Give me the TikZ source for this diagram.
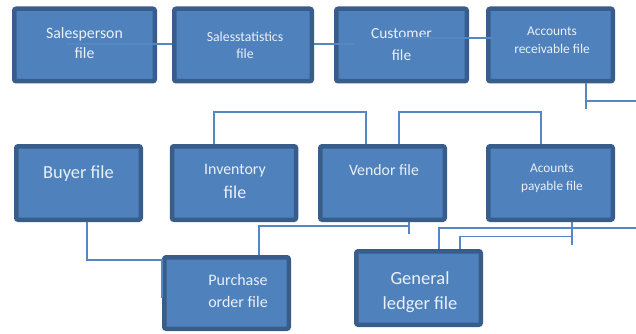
\documentclass[tikz,border=0pt]{standalone}
\usepackage{fontspec}
\setmainfont{Carlito}
\definecolor{boxfill}{RGB}{79,129,189}
\definecolor{boxedge}{RGB}{56,93,138}
\definecolor{linkblue}{RGB}{84,135,196}
\definecolor{boxtext}{RGB}{234,240,248}
\begin{document}
\begin{tikzpicture}[x=1pt, y=-1pt,
  filebox/.style={shape=rectangle, draw=boxedge, fill=boxfill, line width=4.5pt, rounded corners=2pt, minimum width=124.5pt, minimum height=73.5pt, inner sep=0pt},
  ftext/.style={anchor=north, text=boxtext, align=center, inner sep=0pt},
  link/.style={draw=linkblue, line width=1.4pt}]
\useasboundingbox (0,0) rectangle (636,334);
\coordinate (arout) at (636,101);
\coordinate (glout) at (636,228);
\node[filebox, minimum width=140.5pt, minimum height=72.5pt, label={[ftext, yshift=-20.5pt, font=\fontsize{15.8}{20.5}\selectfont]north:Salesperson\\file}] (sp) at (84.5,45) {};
\node[filebox, minimum width=130.5pt, minimum height=72.5pt, label={[ftext, font=\fontsize{15.4}{22}\selectfont, yshift=-21.75pt]north:Customer\\file}] (cu) at (401.5,45) {};
\node[filebox, minimum height=72.5pt, label={[ftext, font=\fontsize{13.4}{18}\selectfont, xshift=1.5pt, yshift=-19.75pt]north:Accounts\\receivable file}] (ar) at (550.5,45) {};
\path [link] ([xshift=-17.5pt, yshift=1pt]sp.center) edge ([xshift=-46.5pt, yshift=1pt]cu.center);
\path [link] ([xshift=-1.5pt, yshift=7pt]cu.center) edge ([xshift=-58.5pt, yshift=7pt]ar.center);
\node[filebox, minimum width=137.5pt, minimum height=72.5pt, label={[ftext, font=\fontsize{13.8}{17}\selectfont, xshift=2pt, yshift=-25.5pt]north:Salesstatistics\\file}] (ss) at (243,45) {};
\node[filebox, label={[ftext, font=\fontsize{18.4}{22}\selectfont, yshift=-21.5pt]north:Buyer file}] (bu) at (78.5,183) {};
\node[filebox, minimum width=124pt, label={[ftext, font=\fontsize{15.9}{24}\selectfont, xshift=1pt, yshift=-20.25pt]north:Inventory\\{\fontsize{18}{24}\selectfont file}}] (in) at (234,183) {};
\node[filebox, label={[ftext, font=\fontsize{15.8}{20}\selectfont, xshift=1.5pt, yshift=-20.25pt]north:Vendor file}] (ve) at (382.5,183) {};
\node[filebox, label={[ftext, font=\fontsize{13.3}{18}\selectfont, xshift=1.5pt, yshift=-20.25pt]north:Acounts\\payable file}] (ap) at (550.5,183) {};
\node[filebox, minimum height=71.5pt, label={[ftext, font=\fontsize{16}{22}\selectfont, xshift=11.5pt, yshift=-19.25pt]north:Purchase\\order file}] (po) at (226.5,293) {};
\node[filebox, label={[ftext, font=\fontsize{18.5}{25}\selectfont, xshift=1.5pt, yshift=-22.25pt]north:General\\ledger file}] (gl) at (418.5,288) {};
\draw [link] ([xshift=35.5pt]ar.south) -- ++(0,25.5);
\draw [link] ([xshift=35.5pt]ar.south |- arout) -- (arout);
\draw [link] ([xshift=-20pt]in.north) -- ++(0,-32) -| ([xshift=-16.5pt]ve.north);
\draw [link] ([xshift=16.5pt]ve.north) -- ++(0,-32) -| ([xshift=-9.5pt]ap.north);
\draw [link] ([xshift=8.5pt]bu.south) |- ([yshift=33pt]po.west) -- ([yshift=-5pt]po.west);
\draw [link] ([xshift=32.5pt]po.north) -- ++(0,-29) -| ([xshift=26.5pt]ve.south);
\draw [link] ([xshift=26.5pt]ve.south) -- ++(0,11.5);
\draw [link] ([xshift=20.5pt]gl.north) |- (glout);
\draw [link] ([xshift=41.5pt]gl.north) -- ++(0,-12.25) -| ([xshift=21.5pt]ap.south);
\draw [link] ([xshift=21.5pt]ap.south) -- ++(0,23);
\end{tikzpicture}
\end{document}
